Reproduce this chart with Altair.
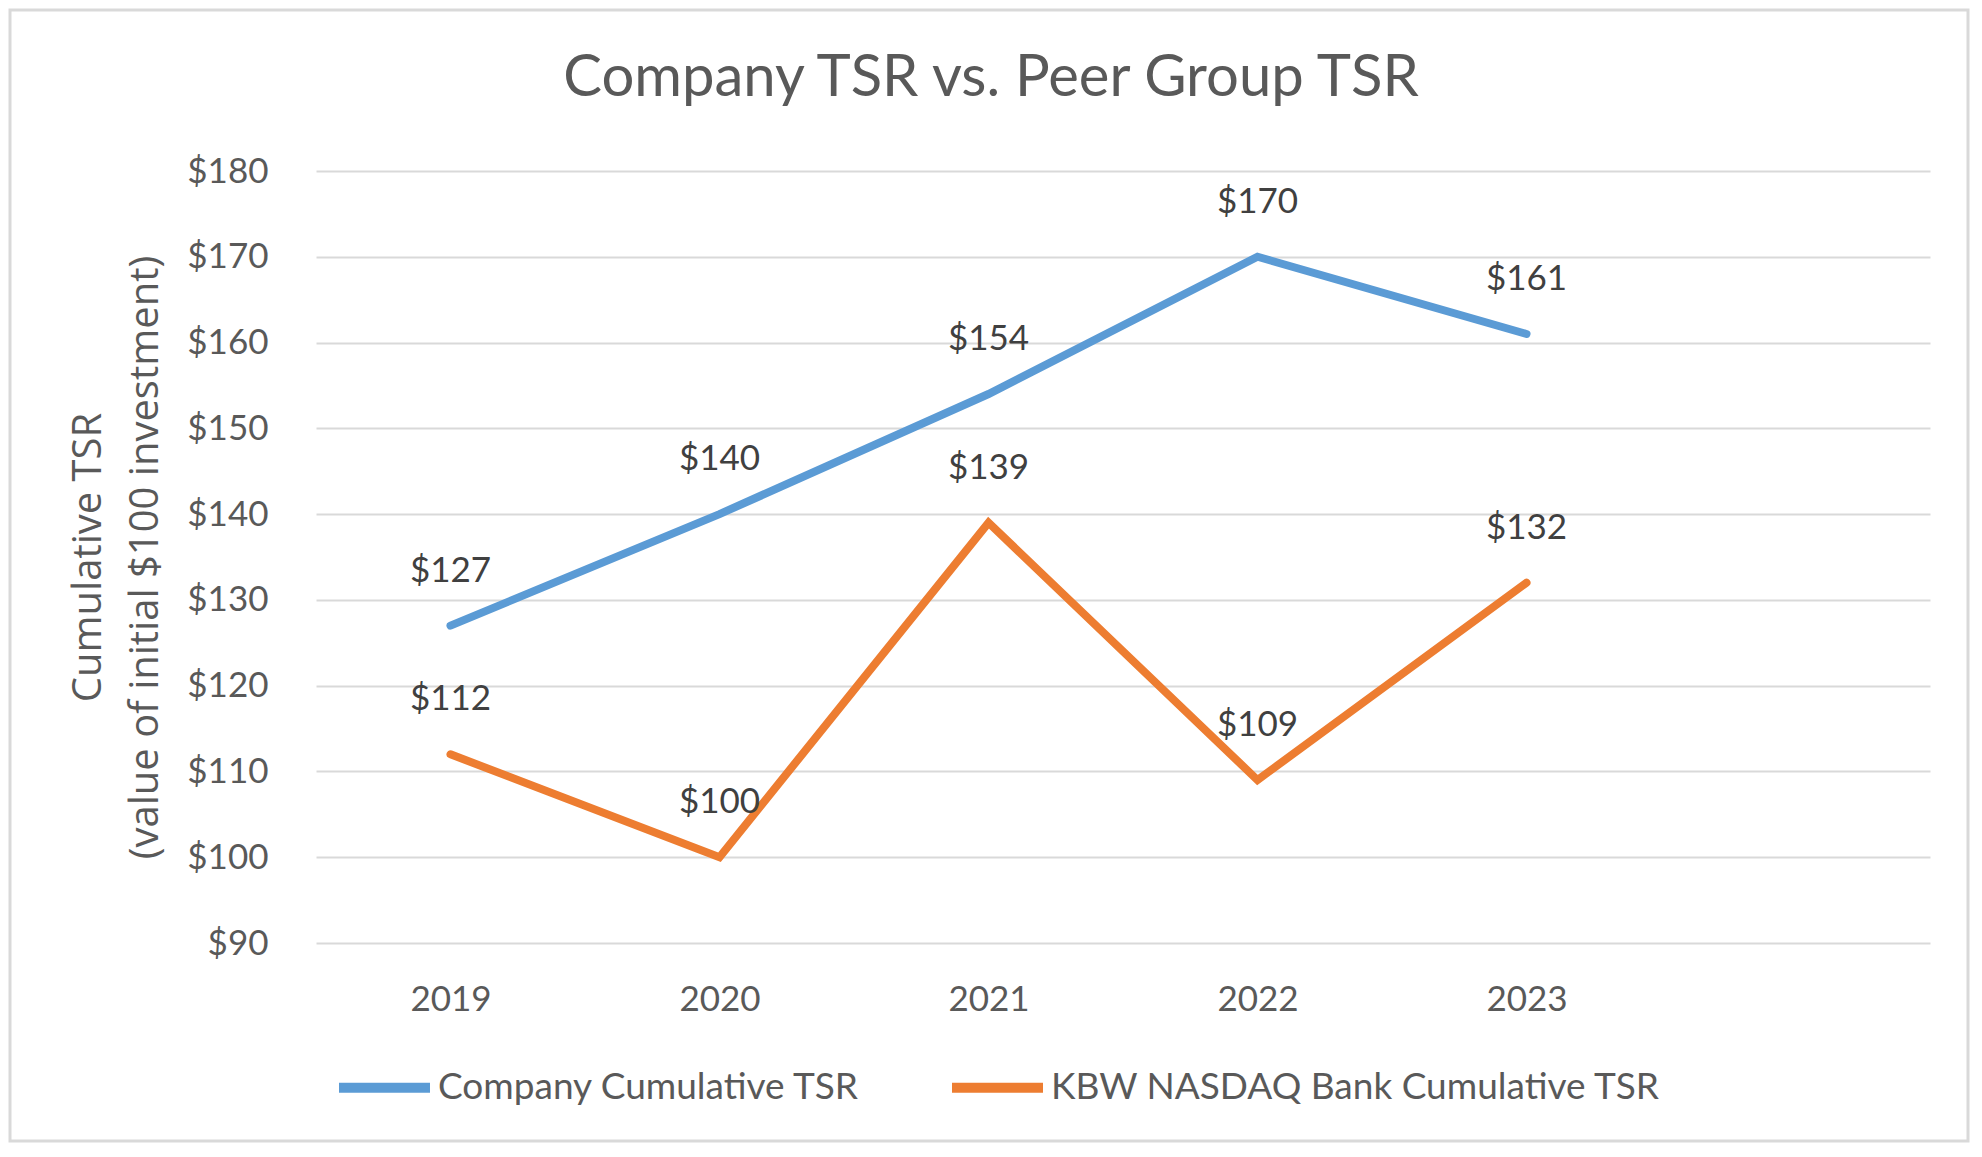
import altair as alt
import pandas as pd

title_text = "Company TSR vs. Peer Group TSR"
years = ["2019", "2020", "2021", "2022", "2023"]
company = [127, 140, 154, 170, 161]
peer = [112, 100, 139, 109, 132]
series_names = ["Company Cumulative TSR", "KBW NASDAQ Bank Cumulative TSR"]
series_colors = ["#5B9BD5", "#ED7D31"]
x_domain = years + ["2024"]
y_ticks = [90, 100, 110, 120, 130, 140, 150, 160, 170, 180]

rows = []
for s, vals in zip(series_names, [company, peer]):
    for y, v in zip(years, vals):
        rows.append({"year": y, "value": v, "series": s, "label": "$" + str(v)})
df = pd.DataFrame(rows)
one = pd.DataFrame({"t": [title_text]})

FONT = "Lato"
base = alt.Chart(df).encode(
    x=alt.X("year:O", scale=alt.Scale(domain=x_domain),
            axis=alt.Axis(title=None, labelExpr="datum.label == '2024' ? '' : datum.label",
                          labelAngle=0, ticks=False, domain=False, grid=False,
                          labelPadding=39, labelFontSize=35, labelColor="#595959",
                          labelFont=FONT)),
    y=alt.Y("value:Q", scale=alt.Scale(domain=[90, 180], nice=False, zero=False),
            axis=alt.Axis(values=y_ticks, labelExpr="'$' + datum.value",
                          title=["Cumulative TSR", "(value of initial $100 investment)"],
                          titleFont="Open Sans", titleFontSize=40, titleFontWeight="normal",
                          titleColor="#595959", titleLineHeight=57, titleAngle=-90,
                          titleX=-228, titleY=386, titleAlign="center", titleBaseline="middle",
                          ticks=False, domain=False, gridColor="#D9D9D9", gridWidth=2,
                          labelPadding=48, labelFontSize=35, labelColor="#595959",
                          labelFont=FONT)),
)

lines = base.mark_line(strokeWidth=8, strokeCap="round").encode(
    color=alt.Color("series:N", scale=alt.Scale(domain=series_names, range=series_colors),
                    legend=alt.Legend(title=None, orient="none", direction="horizontal",
                                      legendX=18, legendY=866, padding=0,
                                      symbolType="stroke", symbolSize=8281,
                                      symbolStrokeWidth=10, labelFont=FONT,
                                      labelFontSize=37, labelColor="#595959",
                                      labelLimit=1000, labelOffset=3, columnPadding=72))
)
labels = base.mark_text(dy=-55, font=FONT, fontSize=35, color="#404040").encode(
    text="label:N", detail="series:N"
)

border = alt.Chart(one).mark_rect(fill=None, stroke="#D9D9D9", strokeWidth=3).encode(
    x=alt.value(-306), x2=alt.value(1614 + 38),
    y=alt.value(-161), y2=alt.value(772 + 198),
)

title = alt.Chart(one).mark_text(font=FONT, fontSize=58, color="#595959",
                                 align="center", baseline="middle").encode(
    x=alt.value(675), y=alt.value(-92), text="t:N"
)

chart = (border + title + lines + labels).properties(
    width=1614, height=772,
    background="white",
    autosize=alt.AutoSizeParams(type="none"),
    padding={"left": 308, "top": 163, "right": 40, "bottom": 200},
).configure_view(stroke=None)

chart.save("out.html", embed_options={"renderer": "svg", "actions": False})
